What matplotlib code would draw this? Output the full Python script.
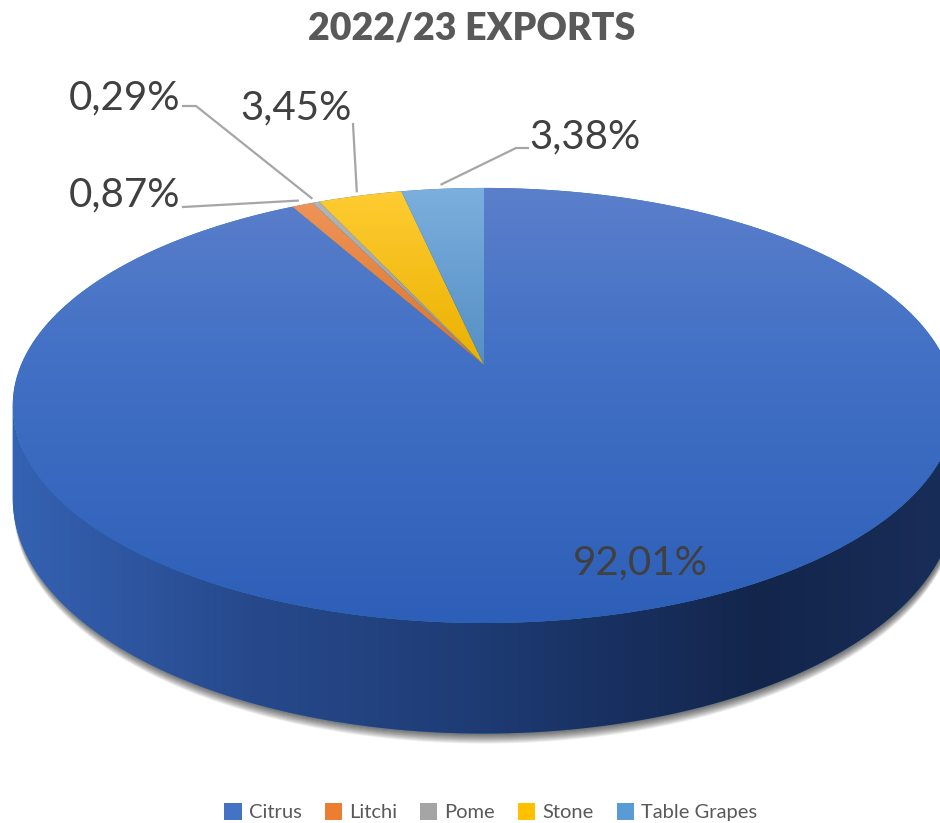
import numpy as np
import matplotlib.pyplot as plt
from matplotlib.patches import Polygon, Patch
from matplotlib.colors import to_rgb

categories = ['Citrus', 'Litchi', 'Pome', 'Stone', 'Table Grapes']
shares = [92.01, 0.87, 0.29, 3.45, 3.38]
labels = ['92,01%', '0,87%', '0,29%', '3,45%', '3,38%']
colors = ['#4472C4', '#ED7D31', '#A5A5A5', '#FFC000', '#5B9BD5']

plt.rcParams['font.family'] = ['Lato', 'DejaVu Sans']

W, H = 940, 823
# apex of pie, radii, perspective factor, thickness (pixels)
CX, CY = 484, 365
R, B, K, D = 463, 210, 0.186, 90


def proj(phi, depth=0.0, scale=1.0):
    # phi: radians clockwise from 12 o'clock
    u = scale * np.sin(phi)
    v = scale * np.cos(phi)
    w = 1 + K * v
    return CX + R * u / w, CY - B * v / w + depth / w


def mix(c, t):
    c = np.array(to_rgb(c))
    if t > 0:
        return c + (1 - c) * t
    return c * (1 + t)


def grad_image(ax, patch, stops, axis='y'):
    pos = [s[0] for s in stops]
    cols = np.array([to_rgb(s[1]) for s in stops])
    if axis == 'y':
        coord = np.arange(H) + 0.5
    else:
        coord = np.arange(W) + 0.5
    rgb = np.stack([np.interp(coord, pos, cols[:, i]) for i in range(3)], axis=-1)
    if axis == 'y':
        img = np.repeat(rgb[:, None, :], W, axis=1)
    else:
        img = np.repeat(rgb[None, :, :], H, axis=0)
    ax.add_patch(patch)
    im = ax.imshow(img, extent=[0, W, H, 0], interpolation='bilinear', zorder=patch.get_zorder())
    im.set_clip_path(patch)


fig = plt.figure(figsize=(9.4, 8.23), dpi=100)
ax = fig.add_axes([0, 0, 1, 1])
ax.set_xlim(0, W)
ax.set_ylim(H, 0)
ax.axis('off')

fracs = np.array(shares) / np.sum(shares)
edges = np.concatenate([[0], np.cumsum(fracs)]) * 2 * np.pi

# shadow under the body
full = np.linspace(0, 2 * np.pi, 400)
bx, by = proj(full, D)
for i in range(10):
    ax.add_patch(Polygon(np.column_stack([bx + 1, by + 1 + i]), closed=True,
                         facecolor='black', edgecolor='none', alpha=0.07, zorder=1))

# side wall (front half)
k_ang = np.arcsin(np.sqrt(1 - K ** 2))
front = np.linspace(np.pi - k_ang, np.pi + k_ang, 300)
tx, ty = proj(front)
sx, sy = proj(front[::-1], D)
side = Polygon(np.column_stack([np.r_[tx, sx], np.r_[ty, sy]]), closed=True,
               edgecolor='none', zorder=2)
grad_image(ax, side, [(13, '#3562B3'), (250, '#27498C'), (480, '#1E3B74'),
                      (760, '#13254B'), (940, '#182D58')], axis='x')

# top face slices
for i, c in enumerate(colors):
    th = np.linspace(edges[i], edges[i + 1], max(3, int(400 * fracs[i])))
    ax_, ay_ = proj(th)
    poly = Polygon(np.column_stack([np.r_[CX, ax_], np.r_[CY, ay_]]), closed=True,
                   edgecolor='none', zorder=3)
    if i == 0:
        stops = [(188, '#5B7FCB'), (365, '#4170C5'), (623, '#2E5FB8')]
    else:
        stops = [(188, mix(c, 0.2)), (365, mix(c, -0.08))]
    grad_image(ax, poly, stops, axis='y')

# labels with leader lines
txt = dict(fontsize=29, color='#404040', ha='center', va='center', zorder=6)
ax.text(640, 563, labels[0], **txt)
lab_pos = {1: (125, 195), 2: (125, 98), 3: (296, 108), 4: (585, 137)}
lead_start = {1: [(183, 207)], 2: [(183, 106), (196, 106)], 3: [(353, 124)],
              4: [(528, 148), (516, 148)]}
for i in range(1, 5):
    ax.text(*lab_pos[i], labels[i], **txt)
    mid = 0.5 * (edges[i] + edges[i + 1])
    ex, ey = proj(mid, scale=1.03)
    pts = lead_start[i] + [(ex, ey)]
    ax.plot([p[0] for p in pts], [p[1] for p in pts], color='#A6A6A6', lw=1.6, zorder=5)

ax.text(W / 2 + 2, 28, '2022/23 EXPORTS', fontsize=27, fontweight='heavy', color='#595959',
        ha='center', va='center')

handles = [Patch(facecolor=c, edgecolor='none') for c in colors]
leg = fig.legend(handles, categories, loc='center', bbox_to_anchor=(0.522, 1 - 812 / H),
                 ncol=5, frameon=False, fontsize=14.5, handlelength=0.85, handleheight=0.95,
                 handletextpad=0.35, columnspacing=1.15)
for t in leg.get_texts():
    t.set_color('#595959')

fig.savefig('out.png', dpi=100)
